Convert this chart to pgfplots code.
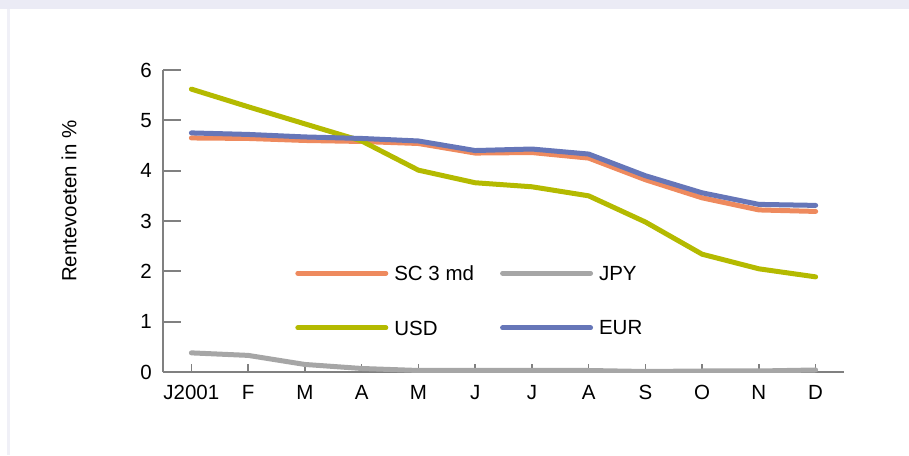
\documentclass[border=0pt]{standalone}
\usepackage{pgfplots}
\pgfplotsset{compat=1.18}
\usepackage{fontspec}
\setmainfont{Liberation Sans}
\definecolor{scorange}{HTML}{EE8A5E}
\definecolor{jpygray}{HTML}{A6A6A6}
\definecolor{usdolive}{HTML}{B4BA00}
\definecolor{eurblue}{HTML}{6676B8}
\definecolor{axgray}{HTML}{808080}
\definecolor{band}{HTML}{EBEBF5}
\definecolor{edge}{HTML}{F0F0F7}
\newcommand{\chartfont}{\fontsize{20.5}{24}\selectfont}
\pgfplotsset{
  frame/.style={
    at={(163pt,83pt)}, anchor=south west,
    scale only axis, width=681pt, height=302pt,
    xmin=-0.5, xmax=11.5, ymin=0, ymax=6,
    tick align=inside,
  }
}
\begin{document}
\begin{tikzpicture}
\useasboundingbox (0,0) rectangle (909pt,455pt);
\fill[band] (0,446pt) rectangle (909pt,455pt);
\fill[edge] (7pt,0) rectangle (10pt,446pt);
% short x ticks
\begin{axis}[
    frame,
    axis x line*=bottom, hide y axis,
    axis line style={draw=none},
    xtick={0,...,11}, xticklabels={},
    major tick length=8pt,
    xtick style={axgray, line width=1.5pt},
]
\end{axis}
\begin{axis}[
    frame,
    axis lines*=left,
    axis line style={axgray, line width=2pt},
    xtick={0,...,11},
    xticklabels={J2001,F,M,A,M,J,J,A,S,O,N,D},
    ytick={0,...,6},
    major tick length=18pt,
    xtick style={draw=none},
    ytick style={axgray, line width=2pt},
    /pgf/number format/assume math mode=true,
    tick label style={font=\chartfont, inner sep=0pt},
    xticklabel style={yshift=-13pt},
    yticklabel style={xshift=-11pt},
    ylabel={Rentevoeten in \%},
    every axis y label/.style={at={(axis description cs:-0.138,0.566)}, rotate=90, anchor=center, font=\chartfont},
    every axis plot/.append style={line width=5pt, line join=round, line cap=round},
    legend columns=2,
    legend cell align=left,
    legend image code/.code={\draw[#1] (0pt,0pt) -- (88pt,0pt);},
    legend style={draw=none, fill=none, font=\chartfont, inner sep=0pt,
        at={(axis description cs:0.194,0.237)}, anchor=west,
        nodes={inner sep=0pt, text depth=0pt},
        /tikz/every even column/.append style={column sep=26pt},
        row sep=40pt},
]
\addplot[scorange] coordinates {
(0,4.65)(1,4.64)(2,4.60)(3,4.58)(4,4.54)(5,4.35)(6,4.36)(7,4.25)(8,3.82)(9,3.46)(10,3.22)(11,3.19)};
\addlegendentry{\hspace{6pt}SC 3 md}
\addplot[jpygray] coordinates {
(0,0.38)(1,0.33)(2,0.15)(3,0.07)(4,0.03)(5,0.03)(6,0.03)(7,0.03)(8,0.01)(9,0.02)(10,0.02)(11,0.04)};
\addlegendentry{\hspace{6pt}JPY}
\addplot[usdolive] coordinates {
(0,5.62)(1,5.27)(2,4.93)(3,4.59)(4,4.01)(5,3.76)(6,3.68)(7,3.50)(8,2.98)(9,2.34)(10,2.05)(11,1.89)};
\addlegendentry{\hspace{6pt}USD}
\addplot[eurblue] coordinates {
(0,4.75)(1,4.72)(2,4.67)(3,4.64)(4,4.59)(5,4.40)(6,4.43)(7,4.33)(8,3.90)(9,3.56)(10,3.33)(11,3.31)};
\addlegendentry{\hspace{6pt}EUR}
\end{axis}
\end{tikzpicture}
\end{document}
